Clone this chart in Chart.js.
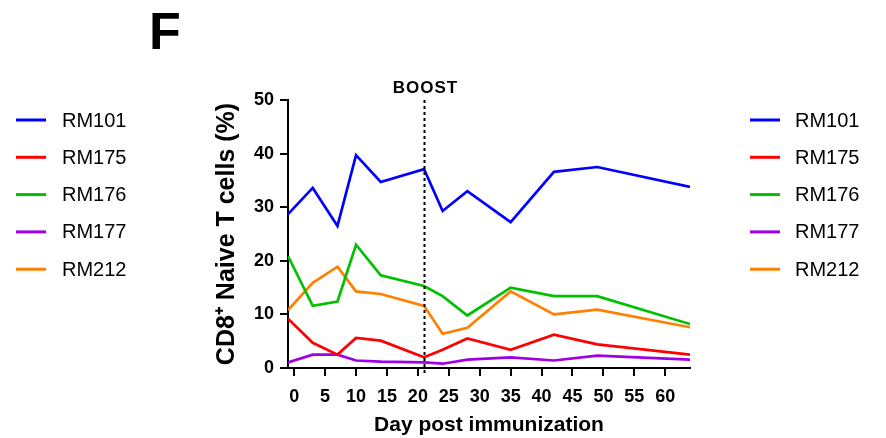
<!DOCTYPE html>
<html>
<head>
<meta charset="utf-8">
<script src="https://cdn.jsdelivr.net/npm/chart.js@4/dist/chart.umd.min.js"></script>
<style>
  html, body { margin: 0; padding: 0; background: #fff; }
  #wrap { width: 886px; height: 438px; position: relative; }
</style>
</head>
<body>
<div id="wrap"><canvas id="c" width="886" height="438"></canvas></div>
<script>
// Sampling days (day post immunization)
const days = [-1, 3, 7, 10, 14, 21, 24, 28, 35, 42, 49, 64];

// CD8+ naive T cells (%) per animal
const rm101 = [28.7, 33.6, 26.5, 39.7, 34.7, 37.1, 29.3, 33.0, 27.2, 36.6, 37.5, 33.8];
const rm175 = [9.2, 4.7, 2.5, 5.6, 5.1, 2.0, 3.4, 5.5, 3.4, 6.2, 4.4, 2.5];
const rm176 = [20.9, 11.6, 12.4, 23.0, 17.3, 15.3, 13.4, 9.8, 15.0, 13.4, 13.4, 8.2];
const rm177 = [1.05, 2.5, 2.5, 1.4, 1.2, 1.05, 0.8, 1.55, 2.0, 1.4, 2.3, 1.55];
const rm212 = [10.8, 15.9, 18.9, 14.3, 13.8, 11.6, 6.4, 7.5, 14.3, 10.0, 10.9, 7.6];

const seriesNames = ['RM101', 'RM175', 'RM176', 'RM177', 'RM212'];
const seriesColors = ['#0000FF', '#FF0000', '#00C000', '#A000E6', '#FF8000'];
const seriesValues = [rm101, rm175, rm176, rm177, rm212];

const xTickValues = [0, 5, 10, 15, 20, 25, 30, 35, 40, 45, 50, 55, 60];
const boostDay = 21;

const FONT = '"Liberation Sans", Arial, Helvetica, sans-serif';

const datasets = seriesNames.map((name, i) => ({
  label: name,
  data: days.map((d, j) => ({ x: d, y: seriesValues[i][j] })),
  borderColor: seriesColors[i],
  backgroundColor: seriesColors[i],
  borderWidth: 2.7,
  pointRadius: 0,
  tension: 0,
  fill: false
}));

// Dotted BOOST marker plus its caption
const boostPlugin = {
  id: 'boost',
  afterDatasetsDraw(chart) {
    const { ctx, chartArea, scales } = chart;
    const x = Math.round(scales.x.getPixelForValue(boostDay)) + 0.5;
    ctx.save();
    ctx.strokeStyle = '#000';
    ctx.lineWidth = 2;
    ctx.setLineDash([3, 3]);
    ctx.beginPath();
    ctx.moveTo(x, chartArea.top);
    ctx.lineTo(x, chartArea.bottom + 5);
    ctx.stroke();
    ctx.setLineDash([]);
    ctx.fillStyle = '#000';
    ctx.font = 'bold 17px ' + FONT;
    if ('letterSpacing' in ctx) ctx.letterSpacing = '1px';
    ctx.textAlign = 'center';
    ctx.textBaseline = 'alphabetic';
    ctx.fillText('BOOST', x + 1, 93);
    ctx.restore();
  }
};

// Series key drawn on both sides of the plot, plus the panel letter
const sideKeysPlugin = {
  id: 'sideKeys',
  afterDraw(chart) {
    const { ctx } = chart;
    const rowY0 = 120, rowGap = 37.3;
    const keys = [
      { x0: 16, x1: 46, tx: 62 },
      { x0: 750, x1: 780, tx: 795 }
    ];
    ctx.save();
    chart.data.datasets.forEach((ds, i) => {
      const y = rowY0 + i * rowGap;
      keys.forEach(k => {
        ctx.strokeStyle = ds.borderColor;
        ctx.lineWidth = 3;
        ctx.beginPath();
        ctx.moveTo(k.x0, y);
        ctx.lineTo(k.x1, y);
        ctx.stroke();
        ctx.fillStyle = '#000';
        ctx.font = '20px ' + FONT;
        ctx.textAlign = 'left';
        ctx.textBaseline = 'middle';
        ctx.fillText(ds.label, k.tx, y + 1);
      });
    });
    ctx.fillStyle = '#000';
    ctx.font = 'bold 52px ' + FONT;
    ctx.textAlign = 'left';
    ctx.textBaseline = 'alphabetic';
    ctx.fillText('F', 149, 49);
    ctx.restore();
  }
};

new Chart(document.getElementById('c'), {
  type: 'line',
  data: { datasets },
  plugins: [boostPlugin, sideKeysPlugin],
  options: {
    responsive: false,
    animation: false,
    layout: { padding: { left: 208, right: 196, top: 100, bottom: 0 } },
    plugins: { legend: { display: false }, tooltip: { enabled: false } },
    scales: {
      x: {
        type: 'linear',
        min: -1,
        max: 64,
        afterBuildTicks(scale) {
          scale.ticks = xTickValues.map(v => ({ value: v }));
        },
        afterFit(scale) { scale.height = 70; },
        border: { display: true, color: '#000', width: 2 },
        grid: { drawOnChartArea: false, drawTicks: true, tickLength: 8, color: '#000', lineWidth: 2 },
        ticks: {
          color: '#000',
          padding: 10,
          maxRotation: 0,
          autoSkip: false,
          font: { family: FONT, size: 18, weight: 'bold' }
        },
        title: {
          display: true,
          text: 'Day post immunization',
          color: '#000',
          padding: { top: 0, bottom: 0 },
          font: { family: FONT, size: 21, weight: 'bold' }
        }
      },
      y: {
        min: 0,
        max: 50,
        afterFit(scale) { scale.width = 80; },
        border: { display: true, color: '#000', width: 2 },
        grid: { drawOnChartArea: false, drawTicks: true, tickLength: 8, color: '#000', lineWidth: 2 },
        ticks: {
          stepSize: 10,
          color: '#000',
          padding: 6,
          font: { family: FONT, size: 18, weight: 'bold' }
        },
        title: {
          display: true,
          text: 'CD8\u207A Naive T cells (%)',
          color: '#000',
          padding: { top: 4, bottom: 4 },
          font: { family: FONT, size: 25, weight: 'bold' }
        }
      }
    }
  }
});
</script>
</body>
</html>
